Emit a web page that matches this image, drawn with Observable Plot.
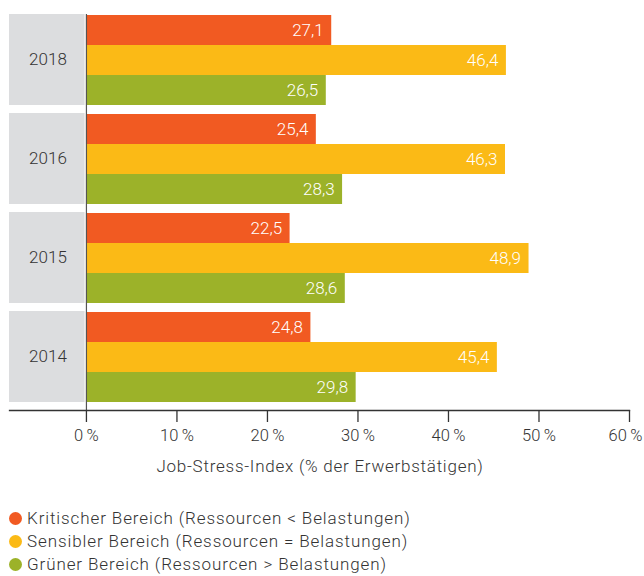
<!DOCTYPE html>
<html><head><meta charset="utf-8">
<script src="https://cdn.jsdelivr.net/npm/d3@7"></script>
<script src="https://cdn.jsdelivr.net/npm/@observablehq/plot@0.6"></script>
<style>
body{margin:0;background:#fff;font-family:Roboto,"DejaVu Sans",sans-serif;color:#333;font-weight:300;}
#title{margin-top:4px;height:24px;line-height:24px;text-align:center;width:640px;font-size:17px;letter-spacing:0.75px;}
#legend{margin-top:29px;padding-left:9px;}
.item{height:23px;line-height:23px;font-size:17px;letter-spacing:0.9px;display:flex;align-items:center;}
.dot{display:inline-block;width:13px;height:13px;border-radius:50%;margin-right:5px;}
</style></head>
<body>
<div id="chart"></div>
<div id="title"></div>
<div id="legend"></div>
<script>
const years = ["2018", "2016", "2015", "2014"];
const categories = ["Kritischer Bereich (Ressourcen < Belastungen)", "Sensibler Bereich (Ressourcen = Belastungen)", "Grüner Bereich (Ressourcen > Belastungen)"];
const kritisch = [27.1, 25.4, 22.5, 24.8];
const sensibel = [46.4, 46.3, 48.9, 45.4];
const gruen = [26.5, 28.3, 28.6, 29.8];
const colors = ["#F15A22", "#FBBA16", "#9CB229"];
const xTicks = [0, 10, 20, 30, 40, 50, 60];
const axisTitle = "Job-Stress-Index (% der Erwerbstätigen)";
const xMin = -8.5, xMax = 60;

const series = [kritisch, sensibel, gruen];
const data = [];
years.forEach((y, i) => series.forEach((s, j) => data.push({year: y, cat: categories[j], value: s[i]})));

const fmt = v => v.toFixed(1).replace(".", ",");
const tickFmt = d => d + "\u2009%";
const axisOpts = {tickFormat: tickFmt, tickSize: 12, tickPadding: 7, dy: 8, label: null, stroke: "#333", strokeWidth: 1.3, fill: "#333", fontSize: 16.5, fontWeight: 300, letterSpacing: 0.3};

const plot = Plot.plot({
  width: 644, height: 450,
  marginTop: 5, marginBottom: 39, marginLeft: 9, marginRight: 15,
  style: {fontFamily: "Roboto, 'DejaVu Sans', sans-serif", fontSize: "17px", fontWeight: 300, color: "#333", overflow: "visible"},
  x: {domain: [xMin, xMax], axis: null},
  y: {domain: categories, padding: 0, axis: null},
  fy: {domain: years, paddingInner: 0.08, paddingOuter: 0.08, axis: null},
  color: {domain: categories, range: colors},
  marks: [
    Plot.barX(years, {x1: () => xMin, x2: () => -0.15, fy: d => d, fill: "#DCDDDF"}),
    Plot.text(years, {x: () => xMin / 2, text: d => d, fy: d => d, fill: "#333", fontSize: 17, fontWeight: 300, letterSpacing: 0.6}),
    Plot.barX(data, {x: "value", y: "cat", fy: "year", fill: "cat"}),
    Plot.text(data, {x: "value", y: "cat", fy: "year", text: d => fmt(d.value), dx: -8, textAnchor: "end", fill: "white", fontSize: 17, fontWeight: 300, letterSpacing: 0.6}),
    Plot.ruleX([0], {stroke: "#555", strokeWidth: 1.2, insetBottom: -8}),
    Plot.frame({anchor: "bottom", facetAnchor: "bottom", dy: 8, stroke: "#333", strokeWidth: 1.3}),
    Plot.axisX({...axisOpts, ticks: xTicks}),
    Plot.axisX({...axisOpts, ticks: [xTicks[xTicks.length - 1]], tickSize: 0, tickPadding: 19, stroke: "none", dx: -4})
  ]
});
// hide the duplicate label of the last tick in the first axis
document.getElementById("chart").append(plot);
const axes = plot.querySelectorAll("g[aria-label='x-axis tick label']");
if (axes.length >= 2) {
  const texts = axes[0].querySelectorAll("text");
  texts[texts.length - 1].setAttribute("visibility", "hidden");
}
document.getElementById("title").textContent = axisTitle;
const lg = document.getElementById("legend");
categories.forEach((c, i) => {
  const it = document.createElement("div"); it.className = "item";
  const d = document.createElement("span"); d.className = "dot"; d.style.background = colors[i];
  it.append(d, document.createTextNode(c)); lg.append(it);
});
</script>
</body></html>
